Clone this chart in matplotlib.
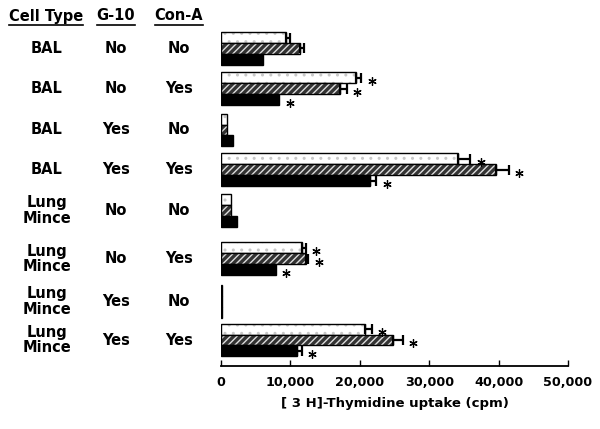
import matplotlib.pyplot as plt
import matplotlib.transforms as mtransforms
from matplotlib.lines import Line2D
import numpy as np

# row labels
cell_type = ['BAL', 'BAL', 'BAL', 'BAL',
             'Lung\nMince', 'Lung\nMince', 'Lung\nMince', 'Lung\nMince']
g10 = ['No', 'No', 'Yes', 'Yes', 'No', 'No', 'Yes', 'Yes']
cona = ['No', 'Yes', 'No', 'Yes', 'No', 'Yes', 'No', 'Yes']
row_pos = [0, 0.97, 1.96, 2.92, 3.89, 5.06, 6.08, 7.01]

# thymidine uptake (cpm), three bars per row
white_vals = [9400, 19500, 800, 34100, 1500, 11600, 200, 20700]
white_err = [500, 700, 0, 1800, 0, 600, 0, 1000]
white_star = [0, 1, 0, 1, 0, 1, 0, 1]
hatch_vals = [11400, 17200, 900, 39600, 1500, 12300, 200, 24800]
hatch_err = [600, 900, 0, 1900, 0, 300, 0, 1400]
hatch_star = [0, 1, 0, 1, 0, 1, 0, 1]
black_vals = [6000, 8400, 1700, 21500, 2300, 7900, 200, 11000]
black_err = [0, 0, 0, 900, 0, 0, 0, 600]
black_star = [0, 1, 0, 1, 0, 1, 0, 1]

xticks = [0, 10000, 20000, 30000, 40000, 50000]
xticklabels = ['0', '10,000', '20,000', '30,000', '40,000', '50,000']

fig = plt.figure(figsize=(6, 4.29), dpi=100)
ax = fig.add_axes([221/600, 1-366/429, 347/600, 346/429])

y = np.array(row_pos)
h = 0.264

# white speckled bars
ax.barh(y - h, white_vals, height=h, color='white', hatch='..', edgecolor='#c8c8c8', linewidth=0)
ax.barh(y - h, white_vals, height=h, fill=False, edgecolor='black', linewidth=1)
# hatched bars
ax.barh(y, hatch_vals, height=h, color='#333333', hatch='/////', edgecolor='#dddddd', linewidth=0)
ax.barh(y, hatch_vals, height=h, fill=False, edgecolor='black', linewidth=1)
# black bars
ax.barh(y + h, black_vals, height=h, color='black', edgecolor='black', linewidth=1)

series = [(y - h, white_vals, white_err, white_star),
          (y, hatch_vals, hatch_err, hatch_star),
          (y + h, black_vals, black_err, black_star)]
for yy, vals, err, star in series:
    vals = np.array(vals)
    err = np.array(err)
    m = err > 0
    ax.errorbar(vals[m], yy[m], xerr=[np.zeros(m.sum()), err[m]], fmt='none',
                ecolor='black', elinewidth=1.6, capsize=3.5, capthick=1.6)
    s = np.array(star) > 0
    ax.plot(vals[s] + err[s] + 1500, yy[s] + 0.07, linestyle='none',
            marker=(6, 2, 0), markersize=6, markeredgewidth=0.9, color='black')

ax.set_xlim(0, 50000)
ax.set_ylim(row_pos[-1] + 0.625, row_pos[0] - 0.685)
ax.set_yticks([])
for sp in ['top', 'right', 'left']:
    ax.spines[sp].set_visible(False)
ax.spines['bottom'].set_linewidth(1.3)
ax.set_xticks(xticks)
ax.set_xticklabels(xticklabels, fontsize=9.2, fontweight='bold')
ax.tick_params(axis='x', direction='in', length=4, width=1, pad=7)
ax.set_xlabel('[ 3 H]-Thymidine uptake (cpm)', fontsize=9.5, fontweight='bold', labelpad=6)

# table on the left
trans = mtransforms.blended_transform_factory(fig.transFigure, ax.transData)
for i in range(len(cell_type)):
    ax.text(47/600, row_pos[i], cell_type[i], transform=trans, ha='center', va='center',
            fontsize=10.5, fontweight='bold', linespacing=1.05, clip_on=False)
    ax.text(116/600, row_pos[i], g10[i], transform=trans, ha='center', va='center',
            fontsize=10.5, fontweight='bold', clip_on=False)
    ax.text(179/600, row_pos[i], cona[i], transform=trans, ha='center', va='center',
            fontsize=10.5, fontweight='bold', clip_on=False)

headers = []
for x, txt in [(46, 'Cell Type'), (116, 'G-10'), (179, 'Con-A')]:
    headers.append(fig.text(x/600, 1-16/429, txt, ha='center', va='center',
                            fontsize=10.5, fontweight='bold'))

fig.canvas.draw()
r = fig.canvas.get_renderer()
for t in headers:
    bb = t.get_window_extent(renderer=r)
    yl = 1 - 24.5/429
    fig.add_artist(Line2D([bb.x0/600, bb.x1/600], [yl, yl], color='black', linewidth=1.2,
                          transform=fig.transFigure))

plt.savefig('out.png', dpi=100)
